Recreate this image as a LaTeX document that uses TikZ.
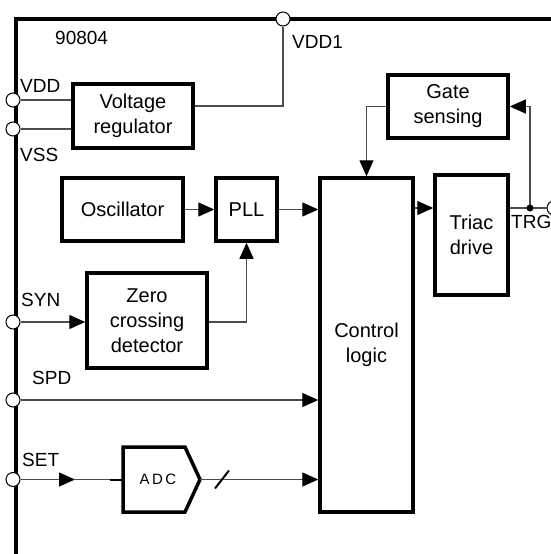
\documentclass[tikz,border=0pt]{standalone}
\usepackage{fontspec}
\setmainfont{Liberation Sans}
\usetikzlibrary{arrows.meta}
\begin{document}
\begin{tikzpicture}[
            x=1pt, y=-1pt,
            block/.style={draw, line width=3.5pt, inner sep=0pt, align=center,
                    font=\fontsize{20}{25}\selectfont},
            pad/.style={draw, circle, fill=white, line width=1pt, minimum size=14pt, inner sep=0pt},
            lbl/.style={anchor=west, inner sep=0pt, font=\fontsize{19}{23}\selectfont},
            wire/.style={draw=black!70, line width=1.2pt},
            arr/.style={wire, -{Triangle[length=16pt, width=14pt, color=black]}}
        ]
        \useasboundingbox (0,0) rectangle (550,554);
        \draw[line width=3.5pt] (560,19) -- (16,19) -- (16,560);

        \node[block, minimum width=120pt, minimum height=64pt] (reg) at (133,116) {Voltage\\regulator};
        \node[block, minimum width=120pt, minimum height=63pt] (gate) at (448,106.5) {Gate\\sensing};
        \node[block, minimum width=121pt, minimum height=63pt] (osc) at (122.5,209.5) {Oscillator};
        \node[block, minimum width=61pt, minimum height=63pt] (pll) at (246.5,209.5) {PLL};
        \node[block, minimum width=120pt, minimum height=95pt] (zcd) at (147,320.5) {Zero\\crossing\\detector};
        \node[block, minimum width=93pt, minimum height=334pt] (ctrl) at (366.5,345) {Control\\logic};
        \node[block, minimum width=73pt, minimum height=120pt] (triac) at (471.5,235) {Triac\\drive};

        \draw[line width=3.5pt, line join=miter] (123,447) -- (185,447) -- (200,479.5)
            -- (185,512) -- (123,512) -- cycle;
        \node[inner sep=0pt, font=\fontsize{15}{17}\selectfont] (adc) at (158,479.5) {A\,D\,C};
        \coordinate (adcin) at (123,479.5);
        \coordinate (adcout) at (200,479.5);

        \node[pad] (vdd1) at (283,19) {};
        \node[pad] (vdd) at (13,100) {};
        \node[pad] (vss) at (13,129) {};
        \node[pad] (syn) at (13,322) {};
        \node[pad] (spd) at (13,400) {};
        \node[pad] (set) at (13,479.5) {};
        \node[pad] (trg) at (554,208) {};
        \coordinate (trgdot) at (530,208);

        \node[lbl] (chip) at (55,38) {90804};
        \node[lbl] (vdd1lbl) at (292,42) {VDD1};
        \node[lbl] (vddlbl) at (20,86) {VDD};
        \node[lbl] (vsslbl) at (20,155) {VSS};
        \node[lbl] (synlbl) at (21,300) {SYN};
        \node[lbl] (spdlbl) at (32,378) {SPD};
        \node[lbl] (setlbl) at (22,460) {SET};
        \node[lbl] (trglbl) at (511,222) {TRG};

        \draw[wire] (vdd) -- (vdd -| reg.west);
        \draw[wire] (vss) -- (vss -| reg.west);
        \draw[wire] ([yshift=10pt]reg.east) -| (vdd1);
        \draw[arr] (gate.west) -| (ctrl.north);
        \draw[arr] (trgdot) |- (gate.east);
        \draw[wire] (triac.east |- trgdot) -- (trg);
        \fill (trgdot) circle (3.5pt);
        \draw[arr] (ctrl.east |- trgdot) -- (triac.west |- trgdot);
        \draw[arr] (osc.east) -- (pll.west);
        \draw[arr] (pll.east) -- (pll.east -| ctrl.west);
        \draw[arr] (syn) -- (syn -| zcd.west);
        \draw[arr] (syn -| zcd.east) -| (pll.south);
        \draw[arr] (spd) -- (spd -| ctrl.west);
        \draw[arr] (set) -- ++(62,0) coordinate (setarr);
        \draw[wire] (setarr) -- (adcin);
        \draw[line width=2pt] (adcin) -- ++(-13,0);
        \draw[arr] (adcout) -- (adcout -| ctrl.west);
        \draw[line width=2pt] ([xshift=22pt]adcout) ++(-7,9) -- ++(14,-18);
    \end{tikzpicture}
\end{document}
